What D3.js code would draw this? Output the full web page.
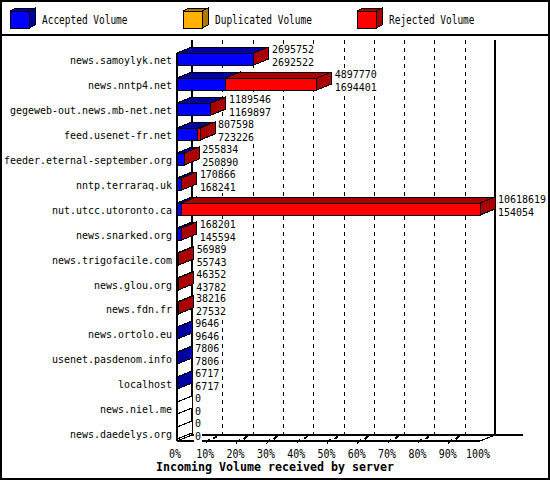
<!DOCTYPE html>
<html>
<head>
<meta charset="utf-8">
<script src="https://cdn.jsdelivr.net/npm/d3@7"></script>
<style>
  body { margin: 0; background: #fff; }
  svg text { font-family: "DejaVu Sans Mono", monospace; font-size: 12px; fill: #000; }
  svg text.val { font-size: 10px; }
  svg text.cat { font-size: 11px; }
</style>
</head>
<body>
<div id="chart"></div>
<script>
// data
const servers = ["news.samoylyk.net", "news.nntp4.net", "gegeweb-out.news.mb-net.net", "feed.usenet-fr.net",
  "feeder.eternal-september.org", "nntp.terraraq.uk", "nut.utcc.utoronto.ca", "news.snarked.org",
  "news.trigofacile.com", "news.glou.org", "news.fdn.fr", "news.ortolo.eu", "usenet.pasdenom.info",
  "localhost", "news.niel.me", "news.daedelys.org"];
const acceptedVolume = [2692522, 1694401, 1169897, 723226, 250890, 168241, 154054, 145594, 55743, 43782, 27532, 9646, 7806, 6717, 0, 0];
const duplicatedVolume = [0, 0, 0, 0, 0, 0, 0, 0, 0, 0, 0, 0, 0, 0, 0, 0];
const rejectedVolume = [3230, 3203369, 19649, 84372, 4944, 2625, 10464565, 22607, 1246, 2570, 10684, 0, 0, 0, 0, 0];
const legendLabels = ["Accepted Volume", "Duplicated Volume", "Rejected Volume"];
const tickLabels = ["0%", "10%", "20%", "30%", "40%", "50%", "60%", "70%", "80%", "90%", "100%"];
const xTitle = "Incoming Volume received by server";

const keys = ["accepted", "duplicated", "rejected"];
const front = ["#0000ff", "#ffb000", "#ff0000"];
const dark = ["#0000a0", "#b07800", "#aa0000"];

const width = 550, height = 480;
const dx = 15, dy = -6;          // depth of the 3d bars / floor
const x0 = 177, x1 = 480, floorY = 441;

const rows = servers.map((s, i) => ({
  name: s, accepted: acceptedVolume[i], duplicated: duplicatedVolume[i], rejected: rejectedVolume[i]
}));
rows.forEach(d => d.total = d.accepted + d.duplicated + d.rejected);
const stacked = d3.stack().keys(keys)(rows);

const x = d3.scaleLinear().domain([0, d3.max(rows, d => d.total)]).range([x0, x1]);
const pct = d3.scaleLinear().domain([0, 100]).range([x0, x1]);
const y = d3.scaleBand().domain(servers).range([47, 445.4]).paddingInner(0.52).paddingOuter(0.26);
const barH = 12;

const svg = d3.select("#chart").append("svg")
  .attr("width", width).attr("height", height)
  .style("shape-rendering", "crispEdges");

const poly = (g, pts, fill) => g.append("polygon")
  .attr("points", pts.map(p => p.join(",")).join(" "))
  .attr("fill", fill).attr("stroke", "#000").attr("stroke-width", 1);

// frame + legend
svg.append("rect").attr("x", 1).attr("y", 1).attr("width", width - 2).attr("height", height - 2)
  .attr("fill", "#fff").attr("stroke", "#000").attr("stroke-width", 2);
svg.append("line").attr("x1", 0).attr("x2", width).attr("y1", 35).attr("y2", 35)
  .attr("stroke", "#000").attr("stroke-width", 2);

const legendX = [10, 183, 357];
legendLabels.forEach((lab, i) => {
  const g = svg.append("g").attr("transform", `translate(${legendX[i]},0)`);
  poly(g, [[0, 11], [6, 8], [25, 8], [19, 11]], dark[i]);
  poly(g, [[19, 11], [25, 8], [25, 25], [19, 28]], dark[i]);
  g.append("rect").attr("x", 0).attr("y", 11).attr("width", 19).attr("height", 17)
    .attr("fill", front[i]).attr("stroke", "#000");
  g.append("text").attr("x", 32).attr("y", 24)
    .attr("textLength", lab.length * 5.7).attr("lengthAdjust", "spacingAndGlyphs").text(lab);
});

// back wall grid
const grid = svg.append("g").attr("stroke", "#000");
d3.range(10, 100, 10).forEach(p => {
  grid.append("line").attr("x1", Math.round(pct(p)) + dx + 0.5).attr("x2", Math.round(pct(p)) + dx + 0.5)
    .attr("y1", 40).attr("y2", floorY + dy).attr("stroke-width", 1.5).attr("stroke-dasharray", "4,4");
});
[0, 100].forEach(p => {
  grid.append("line").attr("x1", pct(p) + dx).attr("x2", pct(p) + dx)
    .attr("y1", 40).attr("y2", floorY + dy).attr("stroke-width", 1.5);
});

// floor
grid.append("line").attr("x1", x0 + dx).attr("x2", 523).attr("y1", floorY + dy).attr("y2", floorY + dy).attr("stroke-width", 1.5);
grid.append("line").attr("x1", x0).attr("x2", x1).attr("y1", floorY).attr("y2", floorY).attr("stroke-width", 1.5);
[0, 100].forEach(p => {
  grid.append("line").attr("x1", pct(p)).attr("y1", floorY).attr("x2", pct(p) + dx).attr("y2", floorY + dy);
});
d3.range(10, 100, 10).forEach(p => {
  const fx = pct(p);
  grid.append("line").attr("x1", fx - 1.5).attr("y1", floorY + 2.5).attr("x2", fx + 2).attr("y2", floorY - 2);
  grid.append("line").attr("x1", fx + 6).attr("y1", floorY - 2).attr("x2", fx + 9.5).attr("y2", floorY - 5)
    .attr("stroke-width", 2);
});
// left front edge
grid.append("line").attr("x1", x0).attr("x2", x0).attr("y1", Math.round(y(servers[0]))).attr("y2", floorY)
  .attr("stroke-width", 1.5);

// bars
const bars = svg.append("g");
rows.forEach((d, i) => {
  const yT = Math.round(y(d.name)), yB = yT + barH;
  if (d.total === 0) {
    poly(bars, [[x0, yT], [x0 + dx, yT + dy], [x0 + dx, yB + dy], [x0, yB]], "#fff");
    return;
  }
  stacked.forEach((s, k) => {
    const a = x(s[i][0]), b = x(s[i][1]);
    if (s[i][1] - s[i][0] <= 0) return;
    poly(bars, [[a, yT], [a + dx, yT + dy], [b + dx, yT + dy], [b, yT]], dark[k]);
    bars.append("rect").attr("x", a).attr("y", yT).attr("width", b - a).attr("height", barH)
      .attr("fill", front[k]).attr("stroke", "#000");
    poly(bars, [[b, yT], [b + dx, yT + dy], [b + dx, yB + dy], [b, yB]], dark[k]);
  });
});

// value labels (total / accepted)
const vals = svg.append("g");
rows.forEach(d => {
  const yT = Math.round(y(d.name));
  const tx = x(d.total) + dx + 3;
  const t1 = String(d.total), t2 = String(d.accepted);
  const w = Math.max(t1.length, t2.length) * 6;
  vals.append("rect").attr("x", tx - 1).attr("y", yT - 9).attr("width", w + 2).attr("height", 24).attr("fill", "#fff");
  vals.append("text").attr("class", "val").attr("x", tx).attr("y", yT)
    .attr("textLength", t1.length * 6).attr("lengthAdjust", "spacingAndGlyphs").text(t1);
  vals.append("text").attr("class", "val").attr("x", tx).attr("y", yT + 13)
    .attr("textLength", t2.length * 6).attr("lengthAdjust", "spacingAndGlyphs").text(t2);
});

// category labels
svg.append("g").selectAll("text").data(servers).join("text")
  .attr("class", "cat")
  .attr("x", 172).attr("y", d => Math.round(y(d)) + 11)
  .attr("text-anchor", "end")
  .attr("textLength", d => d.length * 6).attr("lengthAdjust", "spacingAndGlyphs")
  .text(d => d);

// percent labels
svg.append("g").selectAll("text").data(tickLabels).join("text")
  .attr("x", (d, i) => pct(i * 10) - 2).attr("y", 458)
  .attr("text-anchor", "middle")
  .attr("textLength", d => d.length * 6).attr("lengthAdjust", "spacingAndGlyphs")
  .text(d => d);

// axis title
svg.append("text").attr("x", 275).attr("y", 471).attr("text-anchor", "middle")
  .style("font-weight", "bold")
  .attr("textLength", xTitle.length * 7).attr("lengthAdjust", "spacingAndGlyphs")
  .text(xTitle);
</script>
</body>
</html>
